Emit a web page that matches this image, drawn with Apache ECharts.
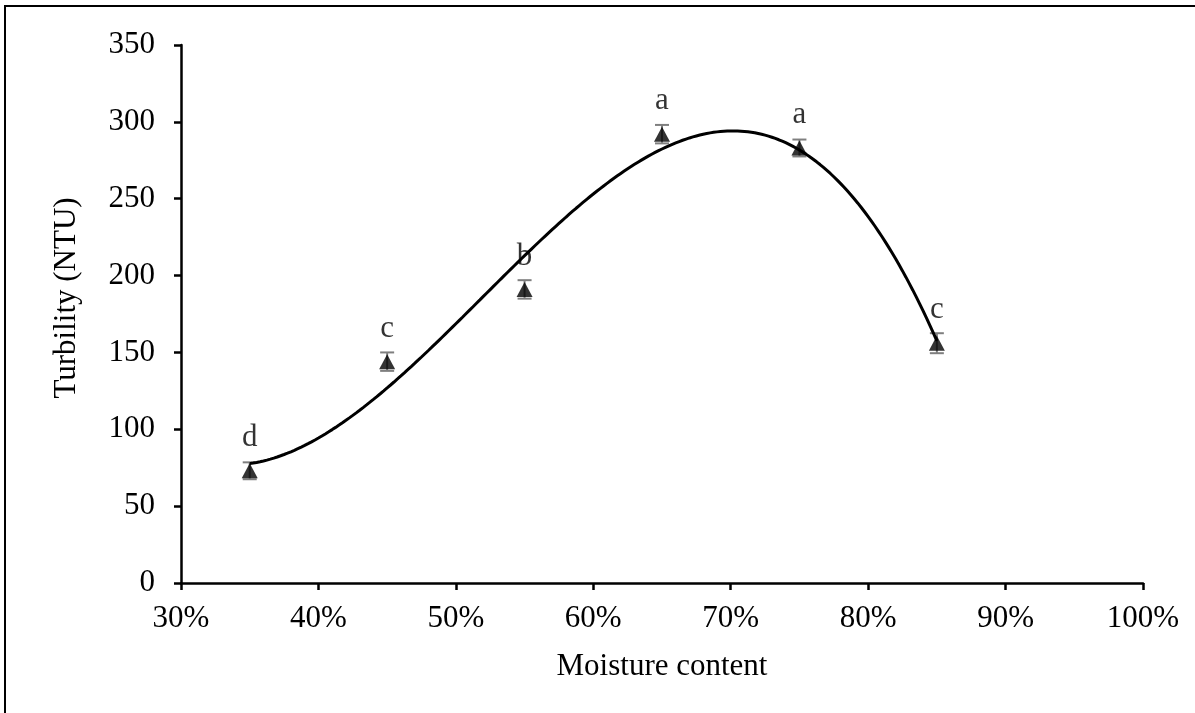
<!DOCTYPE html>
<html>
<head>
<meta charset="utf-8">
<script src="https://cdn.jsdelivr.net/npm/echarts@6/dist/echarts.min.js"></script>
<style>
  html, body { margin: 0; padding: 0; background: #fff; }
  #chart { width: 1195px; height: 713px; }
</style>
</head>
<body>
<div id="chart"></div>
<script>
// Moisture content (%) of each treatment
const moisture = [35, 45, 55, 65, 75, 85];
// Mean turbility (NTU)
const turbility = [73, 144, 191, 292, 283, 156];
// Standard deviation shown as error bars
const errors = [5.5, 6, 6, 6, 5.5, 6.5];
// Significance letters
const letters = ['d', 'c', 'b', 'a', 'a', 'c'];
// Axis ticks
const xTicks = [30, 40, 50, 60, 70, 80, 90, 100];
const yTicks = [0, 50, 100, 150, 200, 250, 300, 350];

const FONT = '"Liberation Serif", "Times New Roman", serif';
const FS = 31;

// Third-order polynomial trendline fitted by least squares
function polyFit(xs, ys, degree) {
  const n = degree + 1;
  const A = [];
  for (let r = 0; r < n; r++) {
    A.push(new Array(n + 1).fill(0));
    for (let c = 0; c < n; c++) {
      A[r][c] = xs.reduce((s, x) => s + Math.pow(x, r + c), 0);
    }
    A[r][n] = xs.reduce((s, x, i) => s + Math.pow(x, r) * ys[i], 0);
  }
  for (let i = 0; i < n; i++) {
    let p = i;
    for (let k = i + 1; k < n; k++) if (Math.abs(A[k][i]) > Math.abs(A[p][i])) p = k;
    [A[i], A[p]] = [A[p], A[i]];
    for (let k = i + 1; k < n; k++) {
      const f = A[k][i] / A[i][i];
      for (let c = i; c <= n; c++) A[k][c] -= f * A[i][c];
    }
  }
  const coef = new Array(n).fill(0);
  for (let i = n - 1; i >= 0; i--) {
    let s = A[i][n];
    for (let c = i + 1; c < n; c++) s -= A[i][c] * coef[c];
    coef[i] = s / A[i][i];
  }
  return coef;
}
// Fit on a centred variable for numerical stability
const centre = 60;
const coef = polyFit(moisture.map(m => (m - centre) / 10), turbility, 3);
const trend = [];
for (let m = moisture[0]; m <= moisture[moisture.length - 1] + 1e-9; m += 0.25) {
  const t = (m - centre) / 10;
  const v = coef.reduce((s, c, i) => s + c * Math.pow(t, i), 0);
  trend.push([m, v]);
}

const points = moisture.map((m, i) => [m, turbility[i]]);
const bars = moisture.map((m, i) => [m, turbility[i] - errors[i], turbility[i] + errors[i]]);

const chart = echarts.init(document.getElementById('chart'), null, { renderer: 'canvas' });
chart.setOption({
  backgroundColor: '#fff',
  animation: false,
  grid: { left: 181, right: 52, top: 45, bottom: 130 },
  xAxis: {
    type: 'value', min: xTicks[0], max: xTicks[xTicks.length - 1], interval: 10,
    axisLine: { lineStyle: { color: '#000', width: 2.5 } },
    axisTick: { show: true, length: 7, lineStyle: { color: '#000', width: 2.5 } },
    axisLabel: { color: '#000', fontFamily: FONT, fontSize: FS, margin: 20, formatter: '{value}%' },
    splitLine: { show: false }
  },
  yAxis: {
    type: 'value', min: yTicks[0], max: yTicks[yTicks.length - 1], interval: 50,
    axisLine: { show: true, lineStyle: { color: '#000', width: 2.5 } },
    axisTick: { show: true, length: 7, lineStyle: { color: '#000', width: 2.5 } },
    axisLabel: { color: '#000', fontFamily: FONT, fontSize: FS, margin: 26 },
    splitLine: { show: false }
  },
  graphic: [
    { type: 'rect', shape: { x: 5, y: 6, width: 1400, height: 900 }, style: { fill: 'none', stroke: '#000', lineWidth: 2 }, z: 100, silent: true },
    { type: 'text', x: 662, y: 667, style: { text: 'Moisture content', font: FS + 'px ' + FONT, fill: '#000', align: 'center', verticalAlign: 'middle' } },
    { type: 'text', x: 67, y: 298, rotation: Math.PI / 2, style: { text: 'Turbility (NTU)', font: FS + 'px ' + FONT, fill: '#000', align: 'center', verticalAlign: 'middle' } }
  ],
  series: [
    {
      type: 'custom',
      data: bars,
      z: 2,
      renderItem: function (params, api) {
        const x = api.value(0);
        const lo = api.coord([x, api.value(1)]);
        const hi = api.coord([x, api.value(2)]);
        const hw = 7;
        const st = { stroke: '#7f7f7f', lineWidth: 2 };
        return {
          type: 'group',
          children: [
            { type: 'line', shape: { x1: lo[0], y1: lo[1], x2: hi[0], y2: hi[1] }, style: st },
            { type: 'line', shape: { x1: lo[0] - hw, y1: lo[1], x2: lo[0] + hw, y2: lo[1] }, style: st },
            { type: 'line', shape: { x1: hi[0] - hw, y1: hi[1], x2: hi[0] + hw, y2: hi[1] }, style: st }
          ]
        };
      }
    },
    {
      type: 'scatter',
      data: points,
      z: 3,
      symbol: 'triangle',
      symbolSize: [16, 15],
      itemStyle: { color: '#000' },
      label: {
        show: true, position: 'top', distance: 10,
        color: '#000', fontFamily: FONT, fontSize: FS,
        formatter: p => letters[p.dataIndex]
      }
    },
    {
      type: 'line',
      data: trend,
      z: 4,
      symbol: 'none',
      smooth: false,
      lineStyle: { color: '#000', width: 3 }
    }
  ]
});
</script>
</body>
</html>
